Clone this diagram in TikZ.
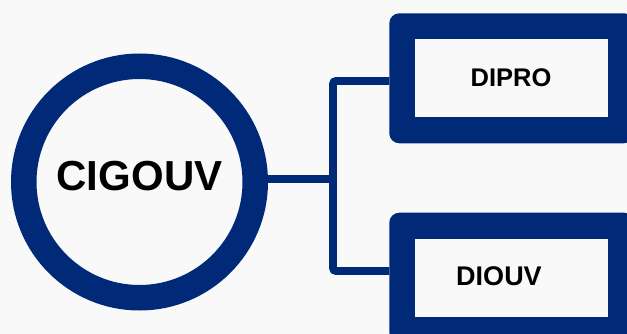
\documentclass[tikz,border=0pt]{standalone}
\usepackage{fontspec}
\setmainfont{Liberation Sans}
\definecolor{navy}{RGB}{0,41,119}
\definecolor{bgc}{HTML}{F9F9FA}
\tikzset{
  conn/.style={draw=navy, line width=7.8pt, rounded corners=3pt},
  outerbox/.style={fill=navy, rounded corners=10pt, inner sep=0pt, minimum width=244.7pt, minimum height=130pt},
  innerbox/.style={fill=bgc, inner sep=0pt, minimum width=192.7pt, minimum height=78pt},
  lbl/.style={text=black, inner sep=0pt},
  ring/.style={circle, draw=navy, fill=bgc, line width=25.5pt, minimum size=231.5pt, inner sep=0pt}
}
\begin{document}
\begin{tikzpicture}[x=1pt,y=-1pt]
\useasboundingbox (0,0) rectangle (627,334);
\clip (0,0) rectangle (627,334);
\fill[bgc] (0,0) rectangle (627,334);
% boxes
\node[outerbox] (dipro) at (511.65,78.3) {};
\node[innerbox] (diproin) at (511.35,78.3) {};
\node[lbl, font=\fontsize{25.5}{30}\selectfont\bfseries] (diprot) at (511,77.5) {DIPRO};
\node[outerbox] (diouv) at (511.65,277.7) {};
\node[innerbox] (diouvin) at (511.35,277.5) {};
\node[lbl, font=\fontsize{27}{32}\selectfont\bfseries] (diouvt) at (499,276) {DIOUV};
% centre circle
\node[ring] (cig) at (139.5,182) {};
\node[lbl, font=\fontsize{42}{48}\selectfont\bfseries] (cigt) at (139.5,175.7) {CIGOUV};
% connectors
\coordinate (j) at (333,179);
\coordinate (t) at (333,81);
\coordinate (b) at (333,271);
\draw[conn] (cig.east |- j) -- (j);
\draw[conn] (dipro.west |- t) -- (t) -- (b) -- (diouv.west |- b);
\end{tikzpicture}
\end{document}
